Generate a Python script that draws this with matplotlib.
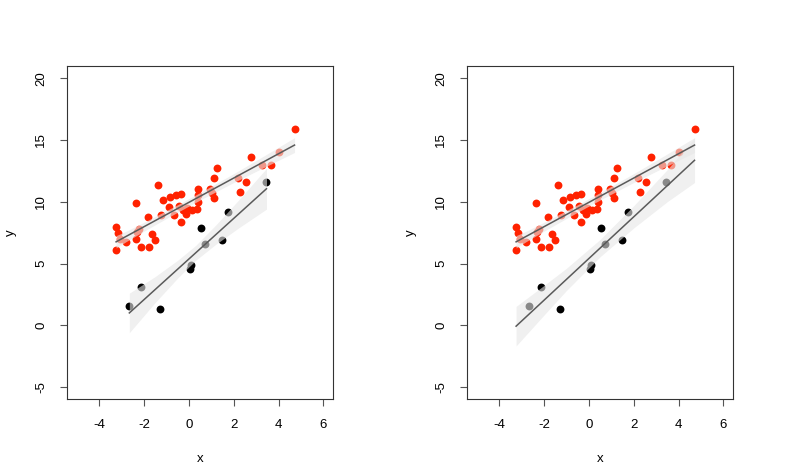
import numpy as np
import matplotlib
matplotlib.use('Agg')
import matplotlib.pyplot as plt

plt.rcParams['font.family'] = ['Liberation Sans', 'DejaVu Sans']

# red group (same in both panels)
red_x = [4.71, 2.78, 4.03, 3.24, 3.66, 1.26, 1.10, 2.19, 2.54, 2.26,
         -1.36, -2.36, 0.40, 0.95, 1.03, 1.10, -0.34, -0.57, -0.83, -1.13,
         0.43, 0.40, 0.36, 0.13, -0.06, -0.24, -0.12, -0.42, -0.87, -0.66,
         -1.22, -0.34, -1.83, -3.24, -3.17, -3.06, -2.81, -3.24, -2.36, -2.20,
         -2.32, -2.13, -1.78, -1.62, -1.50]
red_y = [15.87, 13.66, 14.06, 13.01, 13.01, 12.77, 11.95, 11.95, 11.60, 10.79,
         11.33, 9.93, 11.06, 11.06, 10.74, 10.30, 10.62, 10.54, 10.41, 10.14,
         10.52, 9.98, 9.38, 9.33, 9.49, 9.33, 8.98, 9.65, 9.60, 8.90,
         8.90, 8.35, 8.79, 7.92, 7.44, 7.01, 6.73, 6.08, 7.01, 7.76,
         7.54, 6.33, 6.33, 7.38, 6.87]

# black group (same in both panels)
blk_x = [-2.65, -2.11, -1.28, 0.54, 0.73, 1.49, 1.74, 3.46, 0.06, 0.09]
blk_y = [1.52, 3.06, 1.33, 7.84, 6.57, 6.89, 9.16, 11.60, 4.52, 4.92]

# fitted lines: intercept, slope, x range
red_fit = (9.95, 0.986, -3.24, 4.71)
blk_fit_left = (5.36, 1.646, -2.65, 3.46)
blk_fit_right = (5.40, 1.69, -3.24, 4.71)

# confidence band half widths read at a few x positions
red_band_x = [-3.24, -2.8, -2.0, -0.5, 0.5, 2.0, 3.5, 4.71]
red_band_hw = [0.5, 0.42, 0.36, 0.3, 0.3, 0.36, 0.48, 0.6]
blk_band_x_left = [-2.65, -1.5, -0.5, 0.3, 1.2, 2.2, 3.46]
blk_band_hw_left = [1.6, 1.05, 0.72, 0.6, 0.78, 1.12, 1.65]
blk_band_x_right = [-3.24, -2.0, -1.0, 0.5, 2.0, 3.5, 4.71]
blk_band_hw_right = [1.6, 1.2, 0.9, 0.7, 0.9, 1.3, 1.8]

xticks = [-4, -2, 0, 2, 4, 6]
yticks = [-5, 0, 5, 10, 15, 20]

fig = plt.figure(figsize=(8, 4.66), dpi=100)


def band(ax, fit, bx, bhw):
    a, b, x0, x1 = fit
    bx = np.array(bx)
    mid = a + b * bx
    ax.fill_between(bx, mid - np.array(bhw), mid + np.array(bhw),
                    color=(0.9, 0.9, 0.9), alpha=0.6, lw=0, zorder=3)
    ax.plot([x0, x1], [a + b * x0, a + b * x1], color='#5a5a5a', lw=1.1, zorder=4)


def panel(rect, blk_fit, bx, bhw):
    ax = fig.add_axes(rect)
    ax.scatter(red_x, red_y, s=32, color='#ff2200', lw=0, zorder=2)
    ax.scatter(blk_x, blk_y, s=32, color='black', lw=0, zorder=2)
    band(ax, red_fit, red_band_x, red_band_hw)
    band(ax, blk_fit, bx, bhw)
    ax.set_xlim(-5.44, 6.44)
    ax.set_ylim(-6, 21)
    ax.set_xticks(xticks)
    ax.set_yticks(yticks)
    ax.set_xticklabels([str(t) for t in xticks], fontsize=9.5)
    ax.set_yticklabels([str(t) for t in yticks], fontsize=9.5, rotation=90, va='center')
    ax.tick_params(length=5, width=0.8, color='#555555', pad=9)
    for s in ax.spines.values():
        s.set_color('#333333')
        s.set_linewidth(0.8)
    ax.set_xlabel('x', fontsize=9.5, labelpad=16)
    ax.set_ylabel('y', fontsize=9.5, labelpad=13)
    return ax


panel([0.0834, 0.1431, 0.3333, 0.7153], blk_fit_left, blk_band_x_left, blk_band_hw_left)
panel([0.5834, 0.1431, 0.3333, 0.7153], blk_fit_right, blk_band_x_right, blk_band_hw_right)

plt.savefig('out.png', dpi=100)
